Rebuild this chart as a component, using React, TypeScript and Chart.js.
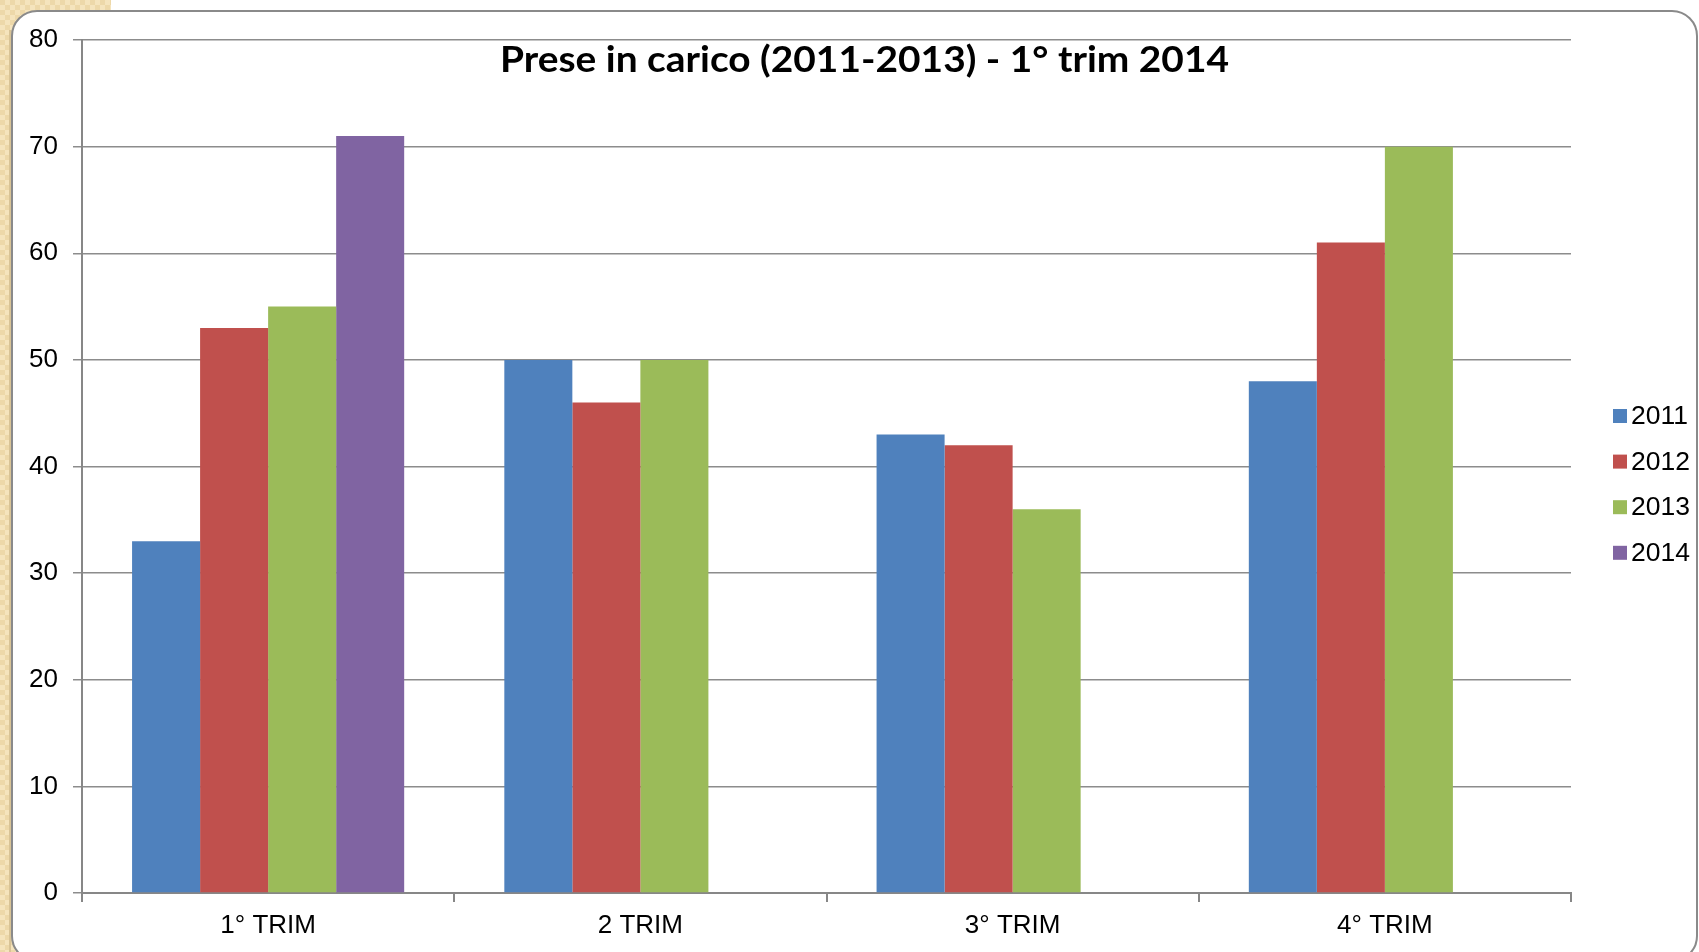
import React, { useEffect, useRef } from 'react';
import { Chart, registerables } from 'chart.js';

Chart.register(...registerables);

const chartTitle = 'Prese in carico (2011-2013) - 1° trim 2014';
const categories = ['1° TRIM', '2 TRIM', '3° TRIM', '4° TRIM'];
const seriesLabels = ['2011', '2012', '2013', '2014'];
const values2011 = [33, 50, 43, 48];
const values2012 = [53, 46, 42, 61];
const values2013 = [55, 50, 36, 70];
const values2014 = [71, null, null, null];
const yMin = 0;
const yMax = 80;
const yStep = 10;
const seriesColors = ['#4F81BD', '#C0504D', '#9BBB59', '#8064A2'];

const W = 1699;
const H = 952;

const backgroundPlugin = {
  id: 'pageBackground',
  beforeDraw(chart: any) {
    const ctx = chart.ctx as CanvasRenderingContext2D;
    ctx.save();
    ctx.fillStyle = '#ffffff';
    ctx.fillRect(0, 0, W, H);
    // beige patterned frame
    const pc = document.createElement('canvas');
    pc.width = 10;
    pc.height = 10;
    const p = pc.getContext('2d')!;
    p.fillStyle = '#F5E4BD';
    p.fillRect(0, 0, 10, 10);
    p.fillStyle = '#EDD8A9';
    p.fillRect(0, 0, 5, 5);
    p.fillRect(5, 5, 5, 5);
    const pattern = ctx.createPattern(pc, 'repeat')!;
    ctx.fillStyle = pattern;
    ctx.fillRect(0, 0, 111, 40);
    ctx.fillRect(0, 0, 40, H);
    ctx.fillStyle = '#D8C396';
    ctx.fillRect(9, 30, 2, H);
    // white rounded panel
    ctx.beginPath();
    (ctx as any).roundRect(12, 11, 1685, 950, 25);
    ctx.fillStyle = '#ffffff';
    ctx.fill();
    ctx.lineWidth = 2;
    ctx.strokeStyle = '#8a8a8a';
    ctx.stroke();
    ctx.restore();
  },
};

const titleLegendPlugin = {
  id: 'titleLegend',
  afterDraw(chart: any) {
    const ctx = chart.ctx as CanvasRenderingContext2D;
    ctx.save();
    // title
    ctx.font = 'bold 37px Lato, "DejaVu Sans", sans-serif';
    const w = ctx.measureText(chartTitle).width;
    ctx.translate(864.5, 72);
    ctx.scale(729 / w, 1);
    ctx.textAlign = 'center';
    ctx.textBaseline = 'alphabetic';
    ctx.fillStyle = '#000000';
    ctx.fillText(chartTitle, 0, 0);
    ctx.restore();

    // legend
    ctx.save();
    ctx.font = '26.5px "Liberation Sans", Arial, sans-serif';
    ctx.textAlign = 'left';
    ctx.textBaseline = 'alphabetic';
    chart.data.datasets.forEach((ds: any, i: number) => {
      const top = 409 + i * 45.6;
      ctx.fillStyle = ds.backgroundColor;
      ctx.fillRect(1613, top, 14, 14);
      ctx.fillStyle = '#000000';
      ctx.fillText(ds.label, 1631, top + 15);
    });
    ctx.restore();
  },
};

export default function App() {
  const canvasRef = useRef<HTMLCanvasElement | null>(null);

  useEffect(() => {
    const canvas = canvasRef.current;
    if (!canvas) return;
    const seriesValues = [values2011, values2012, values2013, values2014];
    const chart = new Chart(canvas, {
      type: 'bar',
      data: {
        labels: categories,
        datasets: seriesLabels.map((label, i) => ({
          label,
          data: seriesValues[i],
          backgroundColor: seriesColors[i],
          borderWidth: 0,
          categoryPercentage: 0.731,
          barPercentage: 1.0,
        })),
      },
      options: {
        responsive: false,
        animation: false,
        devicePixelRatio: 1,
        layout: { padding: { left: 0, right: 128, top: 40, bottom: 0 } },
        plugins: {
          legend: { display: false },
          title: { display: false },
          tooltip: { enabled: false },
        },
        scales: {
          x: {
            afterFit: (s: any) => {
              s.height = 59;
            },
            grid: {
              offset: true,
              drawOnChartArea: false,
              drawTicks: true,
              tickLength: 9,
              color: '#878787',
              lineWidth: 2,
            },
            border: { display: true, color: '#878787', width: 2 },
            ticks: {
              color: '#000000',
              padding: 8,
              font: { family: '"Liberation Sans", Arial, sans-serif', size: 26 },
            },
          },
          y: {
            min: yMin,
            max: yMax,
            afterFit: (s: any) => {
              s.width = 82;
            },
            ticks: {
              stepSize: yStep,
              color: '#000000',
              padding: 15,
              font: { family: '"Liberation Sans", Arial, sans-serif', size: 26 },
            },
            grid: {
              color: '#8c8c8c',
              lineWidth: 1.5,
              tickLength: 9,
              drawTicks: true,
            },
            border: { display: true, color: '#878787', width: 2 },
          },
        },
      },
      plugins: [backgroundPlugin, titleLegendPlugin],
    });
    return () => chart.destroy();
  }, []);

  return (
    <div style={{ position: 'fixed', left: 0, top: 0, width: W, height: H, overflow: 'hidden' }}>
      <canvas ref={canvasRef} width={W} height={H} style={{ width: W, height: H, display: 'block' }} />
    </div>
  );
}
